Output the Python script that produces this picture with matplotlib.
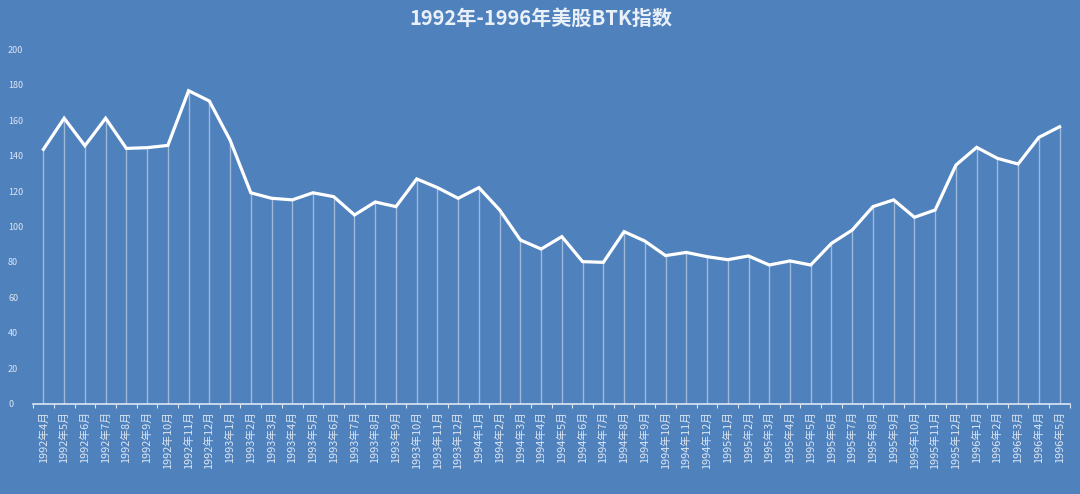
import matplotlib
matplotlib.use("Agg")
import matplotlib.pyplot as plt
import numpy as np

plt.rcParams['font.family'] = ['Noto Sans CJK SC', 'DejaVu Sans']

title = "1992年-1996年美股BTK指数"
years = [1992]*9 + [1993]*12 + [1994]*12 + [1995]*12 + [1996]*5
months = list(range(4, 13)) + list(range(1, 13))*3 + list(range(1, 6))
labels = [f"{y}年{m}月" for y, m in zip(years, months)]
values = [143.5, 161, 145.5, 161, 144, 144.4, 145.7, 176.5, 170.7, 148.7,
          119, 115.9, 115, 119, 116.8, 106.5, 113.8, 111.2, 126.8, 121.9,
          115.9, 121.9, 109.3, 92.4, 87.3, 94.3, 80.2, 79.8, 97.1, 91.8,
          83.6, 85.4, 83, 81.3, 83.4, 78.3, 80.6, 78.3, 90.5, 98,
          111.2, 115, 105.2, 109.3, 134.6, 144.6, 138.4, 135.2, 150.2, 156.2]
yticks = list(range(0, 201, 20))

bg = '#4F81BD'
txt = '#DCE6F2'

fig = plt.figure(figsize=(10.8, 4.94), dpi=100, facecolor=bg)
ax = fig.add_axes([0.0306, 0.1822, 0.9601, 0.7186], facecolor=bg)

x = np.arange(len(values))
ax.vlines(x, 0, values, colors='white', alpha=0.45, linewidth=1.0)
ax.plot(x, values, color='white', linewidth=2.3, solid_joinstyle='miter')

ax.set_xlim(-0.5, len(values) - 0.5)
ax.set_ylim(0, 200)
ax.set_yticks(yticks)
ax.set_yticklabels([str(v) for v in yticks], fontsize=6.5, color=txt, ha='left')
ax.tick_params(axis='y', length=0, pad=18)

ax.set_xticks(x)
ax.set_xticklabels(labels, rotation=90, fontsize=7.8, color=txt, va='top', ha='center')
ax.tick_params(axis='x', which='major', length=0, pad=5)
ax.set_xticks(np.arange(-0.5, len(values), 1), minor=True)
ax.tick_params(axis='x', which='minor', length=3, color='#DCE6F2', width=0.8)

for s in ['top', 'right', 'left']:
    ax.spines[s].set_visible(False)
ax.spines['bottom'].set_color('#DCE6F2')
ax.spines['bottom'].set_linewidth(1.2)

fig.text(0.501, 0.963, title, ha='center', va='center', fontsize=14.5,
         fontweight='bold', color='#EAF0F8')

fig.savefig('out.png', dpi=100, facecolor=bg)
